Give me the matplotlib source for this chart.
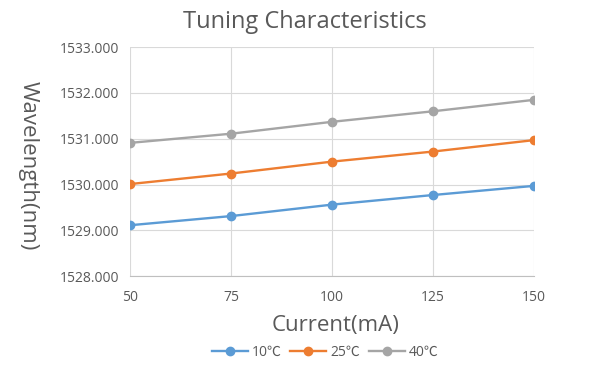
import matplotlib
matplotlib.use('Agg')
import matplotlib.pyplot as plt

plt.rcParams['font.family'] = ['Open Sans', 'Noto Sans CJK SC', 'DejaVu Sans']

# Data.
current = [50, 75, 100, 125, 150]
wl_10 = [1529.11, 1529.31, 1529.56, 1529.77, 1529.97]
wl_25 = [1530.01, 1530.24, 1530.50, 1530.72, 1530.97]
wl_40 = [1530.91, 1531.11, 1531.37, 1531.60, 1531.85]
series_labels = ['10℃', '25℃', '40℃']
colors = ['#5B9BD5', '#ED7D31', '#A5A5A5']
text_color = '#595959'

fig = plt.figure(figsize=[6, 3.72], dpi=100)
ax = fig.add_axes([0.2167, 0.258, 0.673, 0.615])

for vals, lab, col in zip([wl_10, wl_25, wl_40], series_labels, colors):
    ax.plot(current, vals, color=col, lw=1.7, marker='o', markersize=6,
            label=lab, zorder=3)

ax.set_xlim(50, 150)
ax.set_ylim(1528, 1533)
ax.set_xticks(current)
ax.set_yticks([1528, 1529, 1530, 1531, 1532, 1533])
ax.set_yticklabels(['{0:.3f}'.format(v) for v in ax.get_yticks()])

ax.grid(True, color='#D9D9D9', lw=0.8)
ax.set_axisbelow(True)
for side in ['top', 'right', 'left']:
    ax.spines[side].set_visible(False)
ax.spines['bottom'].set_color('#BFBFBF')
ax.tick_params(length=0, colors=text_color, labelsize=10)
ax.tick_params(axis='x', pad=10)
ax.tick_params(axis='y', pad=8)

# Title and axis titles placed on the figure like the reference.
fig.text(0.508, 0.941, 'Tuning Characteristics', fontsize=17, color=text_color,
         ha='center', va='center')
fig.text(0.56, 0.126, 'Current(mA)', fontsize=16, color=text_color,
         ha='center', va='center')
fig.text(0.047, 0.554, 'Wavelength(nm)', fontsize=16, color=text_color,
         ha='center', va='center', rotation=270)

fig.legend(*ax.get_legend_handles_labels(), loc='center',
           bbox_to_anchor=(0.542, 0.054), ncol=3, frameon=False, fontsize=10,
           labelcolor=text_color, handlelength=2.6, columnspacing=0.6,
           handletextpad=0.3)

fig.savefig('out.png', dpi=100)
